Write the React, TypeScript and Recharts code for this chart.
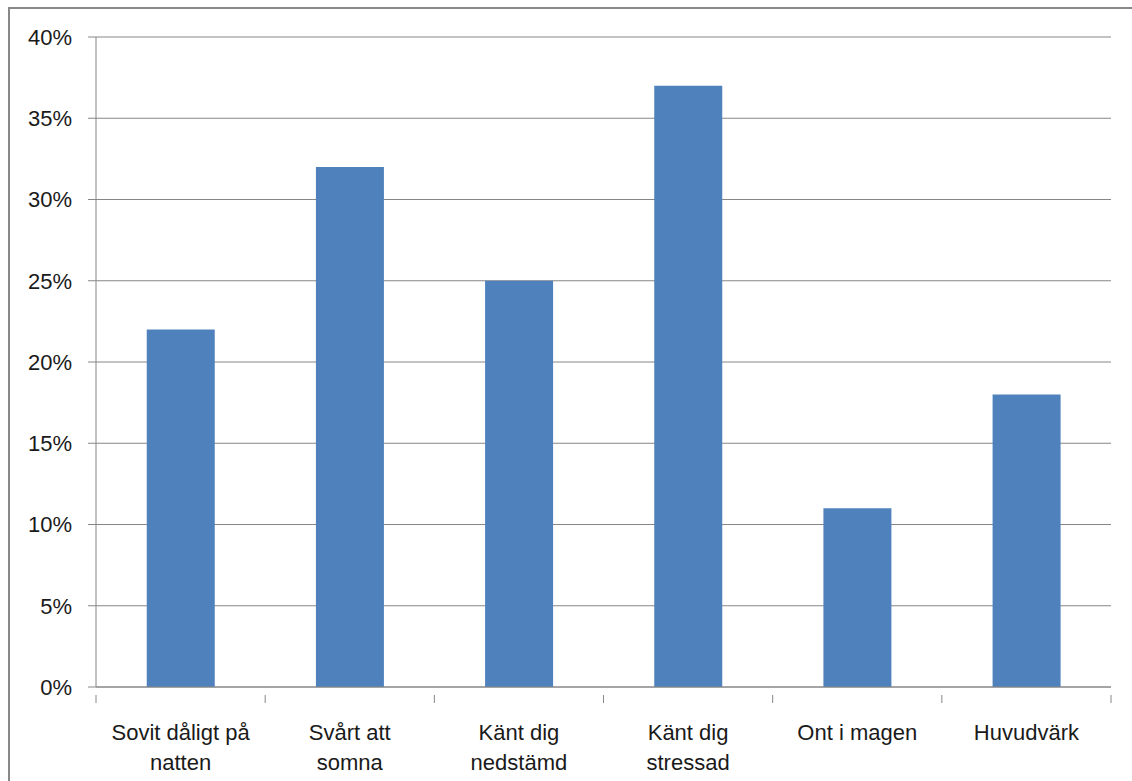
import { Bar, BarChart, CartesianGrid, XAxis, YAxis } from 'recharts';

const categories = ['Sovit dåligt på natten', 'Svårt att somna', 'Känt dig nedstämd', 'Känt dig stressad', 'Ont i magen', 'Huvudvärk'];
const labelLines = [
  ['Sovit dåligt på', 'natten'],
  ['Svårt att', 'somna'],
  ['Känt dig', 'nedstämd'],
  ['Känt dig', 'stressad'],
  ['Ont i magen'],
  ['Huvudvärk']
];
const values = [22, 32, 25, 37, 11, 18];
const yTicks = [0, 5, 10, 15, 20, 25, 30, 35, 40];

const data = categories.map((name, i) => ({ name, value: values[i] }));

const FONT = '"Liberation Sans", Arial, sans-serif';
const AXIS = '#868686';
const PLOT_LEFT = 96;
const PLOT_RIGHT = 1111;
const STEP = (PLOT_RIGHT - PLOT_LEFT) / categories.length;

function CategoryTick(props: any) {
  const { x, y, payload, index } = props;
  const lines = labelLines[index] ?? [payload.value];
  const left = x - STEP / 2;
  return (
    <g>
      <line x1={left} y1={y} x2={left} y2={y + 8} stroke={AXIS} />
      {index === categories.length - 1 && (
        <line x1={left + STEP} y1={y} x2={left + STEP} y2={y + 8} stroke={AXIS} />
      )}
      {lines.map((t: string, i: number) => (
        <text key={i} x={x} y={y + 45 + i * 30} textAnchor="middle" fontSize={22} fill="#1a1a1a" fontFamily={FONT}>
          {t}
        </text>
      ))}
    </g>
  );
}

export default function App() {
  return (
    <div style={{ position: 'absolute', left: 0, top: 0, width: 1132, height: 781, background: '#fff' }}>
      <div
        style={{
          position: 'absolute',
          left: 8,
          top: 7,
          width: 1140,
          height: 790,
          borderLeft: '2px solid #888',
          borderTop: '2px solid #888'
        }}
      />
      <div style={{ position: 'absolute', left: 0, top: 0 }}>
        <BarChart
          width={1132}
          height={781}
          data={data}
          margin={{ top: 37, right: 1132 - PLOT_RIGHT, left: 0, bottom: 0 }}
          barCategoryGap="30%"
        >
          <CartesianGrid horizontal vertical={false} stroke={AXIS} strokeWidth={1} />
          <XAxis
            dataKey="name"
            height={94}
            interval={0}
            tickLine={false}
            axisLine={{ stroke: AXIS }}
            tick={<CategoryTick />}
          />
          <YAxis
            width={PLOT_LEFT}
            domain={[0, 40]}
            ticks={yTicks}
            interval={0}
            tickFormatter={(v) => `${v}%`}
            tickSize={8}
            tickMargin={16}
            tickLine={{ stroke: AXIS }}
            axisLine={{ stroke: AXIS }}
            tick={{ fontSize: 22, fill: '#1a1a1a', fontFamily: FONT }}
          />
          <Bar dataKey="value" fill="#4F81BD" isAnimationActive={false} />
        </BarChart>
      </div>
    </div>
  );
}
